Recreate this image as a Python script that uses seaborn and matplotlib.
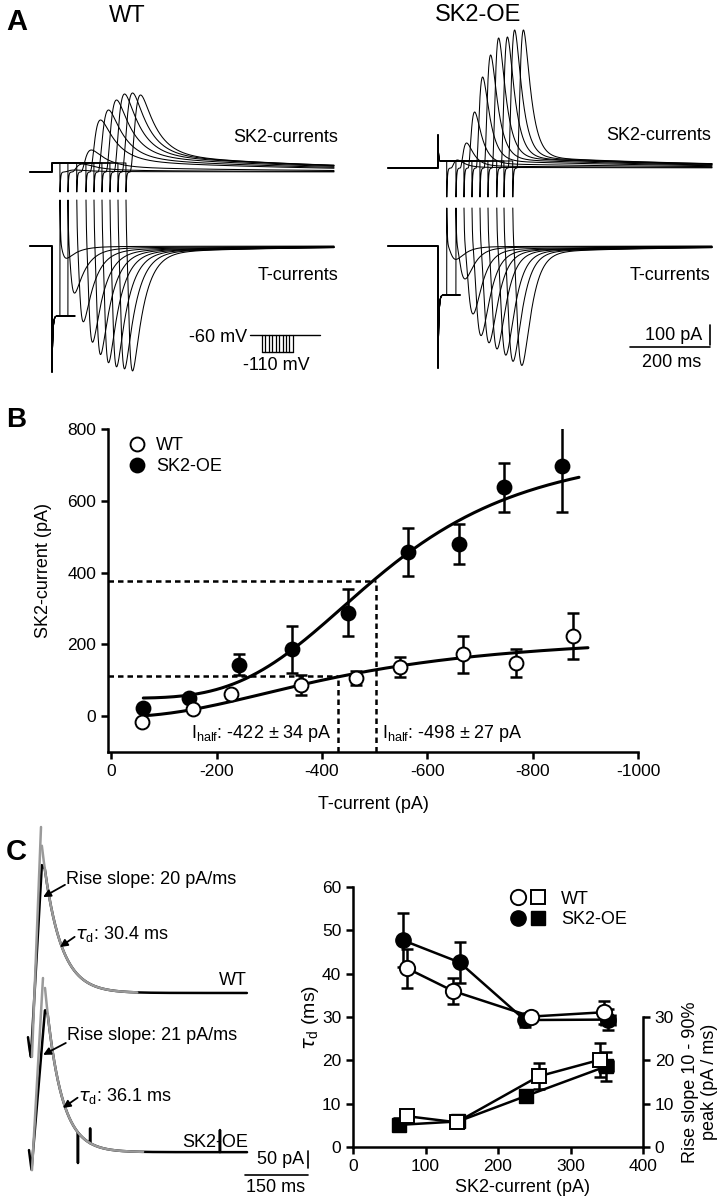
import numpy as np
import matplotlib
matplotlib.use("Agg")
import matplotlib.pyplot as plt
import seaborn as sns
from matplotlib.lines import Line2D
from matplotlib.legend_handler import HandlerTuple

# ====================== DATA ======================
# ---- Panel A: example sweeps (time in ms, current in pA) ----
wt_t_end = 760
wt_t_step = 55
wt_t_blank = 112
wt_t_return = [75, 95, 117, 140, 160, 180, 200, 220, 240]
wt_leak = -350
wt_T_amp = [60, 230, 370, 470, 530, 570, 590, 600, 610]
wt_SK2_amp = [10, 40, 110, 260, 310, 360, 390, 395, 385]

oe_t_end = 810
oe_t_step = 125
oe_t_blank = 180
oe_t_return = [147, 170, 190, 210, 230, 250, 272, 290, 312]
oe_leak = -245
oe_T_amp = [65, 160, 330, 435, 470, 500, 530, 560, 580]
oe_SK2_amp = [40, 125, 280, 455, 565, 650, 655, 690, 690]

# kinetics read from the sweeps (ms / pA)
wt_kin = dict(tm=6, th=28, lat=10, tr=10, td=38, sus=0.22, sus_tau=500, step_cap=-630,
              ret_cap=230, hyp_shift=45, ret_dip=-100, step_spike=0, T_off=-370)
oe_kin = dict(tm=12, th=22, lat=10, tr=8, td=18, sus=0.08, sus_tau=500, step_cap=-610,
              ret_cap=190, hyp_shift=35, ret_dip=-145, step_spike=130, T_off=-390)

# ---- Panel B: SK2-current vs T-current ----
b_wt_x = [-58, -155, -227, -361, -464, -548, -668, -768, -876]
b_wt_y = [-17, 20, 62, 87, 106, 137, 172, 149, 223]
b_wt_err = [0, 0, 0, 27, 20, 29, 52, 39, 65]
b_oe_x = [-60, -147, -243, -344, -449, -564, -661, -746, -856]
b_oe_y = [22, 50, 143, 186, 288, 457, 480, 637, 697]
b_oe_err = [0, 0, 29, 65, 65, 67, 55, 68, 127]
# Hill fits (bottom, top, K, n, x-range)
fit_wt = dict(bottom=-2, top=232, K=450, n=2.2, x0=-60, x1=-905)
fit_oe = dict(bottom=50, top=760, K=520, n=3.5, x0=-61, x1=-888)
half_wt = (-430, 112)
half_oe = (-502, 376)
b_xticks = [0, -200, -400, -600, -800, -1000]
b_yticks = [0, 200, 400, 600, 800]

# ---- Panel C (left): example SK2 currents (ms, pA) ----
c_wt_t = [0, 3.6, 7, 33, 40]
c_wt_y = [-130, -165, -188, 376, 365]
c_wt_tau = 41
c_wt_end = 521
c_wt_fit_end = 260
c_wt_rise_t = [9.5, 31]
c_wt_rise_y = [-188, 488]
c_oe_t = [2.4, 8.3, 40.5, 47]
c_oe_y = [6, -53, 418, 405]
c_oe_tau = 37
c_oe_end = 521
c_oe_fit_end = 274
c_oe_rise_t = [9.5, 35.7]
c_oe_rise_y = [-53, 512]
c_oe_offset = -468
c_oe_spike_t = [119, 148, 457]
c_oe_spike_y = [-32, 70, 65]

# ---- Panel C (right): decay tau and rise slope vs SK2-current ----
c_tau_wt_x = [75, 138, 246, 346]
c_tau_wt_y = [41.2, 36.0, 30.1, 31.1]
c_tau_wt_err = [4.6, 3.1, 1.0, 2.7]
c_tau_oe_x = [69, 147, 237, 352]
c_tau_oe_y = [47.7, 42.6, 29.3, 29.4]
c_tau_oe_err = [6.2, 4.7, 1.5, 2.5]
c_rise_wt_x = [75, 143, 256, 340]
c_rise_wt_y = [7.1, 5.7, 16.3, 20.1]
c_rise_wt_err = [0.8, 0.5, 3.0, 3.9]
c_rise_oe_x = [63, 145, 239, 349]
c_rise_oe_y = [5.1, 5.9, 11.8, 18.6]
c_rise_oe_err = [1.5, 0.6, 0.8, 3.4]
c_oe_xerr = [0, 0, 6, 10]

# ====================== STYLE ======================
sns.set_style("ticks", rc={"axes.edgecolor": "black", "xtick.color": "black",
                           "ytick.color": "black", "text.color": "black",
                           "axes.labelcolor": "black"})
plt.rcParams["font.family"] = ["Liberation Sans", "DejaVu Sans"]
plt.rcParams["mathtext.fontset"] = "dejavusans"
plt.rcParams["axes.unicode_minus"] = False

W, H = 721, 1199
fig = plt.figure(figsize=(W / 100, H / 100), dpi=100)


def add_ax(left, top, right, bottom):
    return fig.add_axes([left / W, 1 - bottom / H, (right - left) / W, (bottom - top) / H])


def ftext(px, py, s, **kw):
    fig.text(px / W, 1 - py / H, s, **kw)


# ====================== PANEL A ======================
def sweeps(t_end, t_step, t_blank, t_ret_list, leak, T_amps, S_amps, k):
    t = np.arange(0, t_end + 0.25, 0.25)
    sg = np.arange(0, 400, 0.05)
    g = (1 - np.exp(-sg / k["tm"])) ** 3 * np.exp(-sg / k["th"])
    gmax = g.max()
    out = []
    for t_ret, A_T, A_S in zip(t_ret_list, T_amps, S_amps):
        T = np.zeros_like(t)
        S = np.zeros_like(t)
        hyp = (t >= t_step) & (t < t_ret)
        post = t >= t_ret
        T[hyp] = leak + (k["step_cap"] - leak) * np.exp(-(t[hyp] - t_step) / 2.0)
        T[hyp & (t > t_blank)] = np.nan
        S[hyp] = k["hyp_shift"] + k["step_spike"] * np.exp(-(t[hyp] - t_step) / 1.0)
        sp = t[post] - t_ret
        gT = (1 - np.exp(-sp / k["tm"])) ** 3 * np.exp(-sp / k["th"]) / gmax
        T[post] = (k["ret_cap"] * np.exp(-sp / 1.2) - A_T * gT
                   - 0.06 * A_T * (1 - np.exp(-sp / 30)) * np.exp(-sp / 350))
        sl = np.clip(sp - k["lat"], 0, None)
        h = (1 - np.exp(-sl / k["tr"])) ** 3 * np.exp(-sl / k["td"])
        sus = (1 - np.exp(-sl / 30)) * np.exp(-sl / k["sus_tau"])
        shape = (1 - k["sus"]) * h / max(h.max(), 1e-9) + k["sus"] * sus
        shape = shape / shape.max()
        S[post] = A_S * shape + k["ret_dip"] * np.exp(-sp / 1.5)
        out.append((t, S, T + k["T_off"]))
    return out


axAw = add_ax(25, 20, 350, 400)
axAw.set_xlim(-12.5, 800)
axAw.set_ylim(-1140, 760)
axAo = add_ax(383, 20, 718, 400)
axAo.set_xlim(-12.5, 825)
axAo.set_ylim(-1160, 740)

for ax, args in [(axAw, (wt_t_end, wt_t_step, wt_t_blank, wt_t_return, wt_leak, wt_T_amp,
                         wt_SK2_amp, wt_kin)),
                 (axAo, (oe_t_end, oe_t_step, oe_t_blank, oe_t_return, oe_leak, oe_T_amp,
                         oe_SK2_amp, oe_kin))]:
    for t, S, T in sweeps(*args):
        ax.plot(t, S, color="black", lw=0.75)
        ax.plot(t, T, color="black", lw=0.75)
    ax.axis("off")

axAw.text(770, 175, "SK2-currents", ha="right", va="center", fontsize=13)
axAw.text(770, -520, "T-currents", ha="right", va="center", fontsize=13)
axAo.text(807, 160, "SK2-currents", ha="right", va="center", fontsize=13)
axAo.text(807, -540, "T-currents", ha="right", va="center", fontsize=13)

# voltage protocol inset
axAw.plot([550, 725], [-815, -815], color="black", lw=1)
axAw.plot([580, 657], [-900, -900], color="black", lw=1)
for xv in np.linspace(580, 657, 10):
    axAw.plot([xv, xv], [-900, -815], color="black", lw=0.9)
axAw.text(542, -825, "-60 mV", ha="right", va="center", fontsize=13)
axAw.text(617, -965, "-110 mV", ha="center", va="center", fontsize=13)

# scale bars
axAo.plot([605, 805], [-895, -895], color="black", lw=1.2)
axAo.plot([805, 805], [-885, -785], color="black", lw=1.2)
axAo.text(785, -835, "100 pA", ha="right", va="center", fontsize=13)
axAo.text(710, -972, "200 ms", ha="center", va="center", fontsize=13)

ftext(127, 16, "WT", ha="center", va="center", fontsize=17)
ftext(478, 15, "SK2-OE", ha="center", va="center", fontsize=17)

# ====================== PANEL B ======================
axB = add_ax(108, 429, 638, 752)


def hill(xabs, p):
    return p["bottom"] + (p["top"] - p["bottom"]) * xabs ** p["n"] / (p["K"] ** p["n"] + xabs ** p["n"])


for p in (fit_wt, fit_oe):
    xf = np.linspace(p["x0"], p["x1"], 300)
    sns.lineplot(x=xf, y=hill(-xf, p), ax=axB, color="black", lw=2.2, sort=False,
                 estimator=None, zorder=3)

for hx, hy in (half_wt, half_oe):
    axB.plot([6, hx], [hy, hy], color="black", lw=1.8, ls=(0, (2.2, 1.6)), zorder=2)
    axB.plot([hx, hx], [-100, hy], color="black", lw=1.8, ls=(0, (2.2, 1.6)), zorder=2)

axB.errorbar(b_oe_x, b_oe_y, yerr=b_oe_err, fmt="none", ecolor="black", elinewidth=1.8,
             capsize=4, capthick=1.8, zorder=4)
axB.errorbar(b_wt_x, b_wt_y, yerr=b_wt_err, fmt="none", ecolor="black", elinewidth=1.8,
             capsize=4, capthick=1.8, zorder=4)
axB.plot(b_oe_x, b_oe_y, "o", ms=10, mfc="black", mec="black", mew=1.4, zorder=5)
axB.plot(b_wt_x, b_wt_y, "o", ms=10, mfc="white", mec="black", mew=1.4, zorder=6)

axB.set_xlim(6, -1000)
axB.set_ylim(-100, 800)
axB.set_xticks(b_xticks)
axB.set_yticks(b_yticks)
sns.despine(ax=axB)
for sp in ("left", "bottom"):
    axB.spines[sp].set_linewidth(1.8)
axB.tick_params(width=1.8, length=5, labelsize=12.5)
axB.text(-0.121, 0.563, "SK2-current (pA)", transform=axB.transAxes, rotation=90,
         ha="center", va="center", fontsize=13)
axB.text(0.5, -0.164, "T-current (pA)", transform=axB.transAxes, ha="center",
         va="center", fontsize=13)
axB.text(-151, -48, r"I$_{\mathregular{half}}$: -422 ± 34 pA", ha="left", va="center", fontsize=13)
axB.text(-514, -48, r"I$_{\mathregular{half}}$: -498 ± 27 pA", ha="left", va="center", fontsize=13)

hB = [Line2D([], [], marker="o", ls="", ms=10, mfc="white", mec="black", mew=1.4),
      Line2D([], [], marker="o", ls="", ms=10, mfc="black", mec="black", mew=1.4)]
axB.legend(hB, ["WT", "SK2-OE"], loc="upper left", bbox_to_anchor=(0.03, 0.985),
           frameon=False, fontsize=13, handlelength=1.0, handletextpad=0.6,
           labelspacing=0.2, borderaxespad=0, borderpad=0.2)

# ====================== PANEL C left ======================
axCl = add_ax(25, 810, 320, 1195)
axCl.set_xlim(-7.1, 695)
axCl.set_ylim(-594, 538)
axCl.axis("off")


def c_trace(key_t, key_y, tau, t_end, sp_t=(), sp_y=()):
    t = np.arange(key_t[0], t_end + 0.5, 0.5)
    y = np.interp(t, key_t, key_y)
    late = t > key_t[-1]
    y[late] = key_y[-1] * np.exp(-(t[late] - key_t[-1]) / tau)
    for ts, ys in zip(sp_t, sp_y):
        i = int(np.argmin(np.abs(t - ts)))
        y[i] = ys
    return t, y


tw, yw = c_trace(c_wt_t, c_wt_y, c_wt_tau, c_wt_end)
axCl.plot(tw, yw, color="black", lw=1.8, zorder=2)
to, yo = c_trace(c_oe_t, c_oe_y, c_oe_tau, c_oe_end, c_oe_spike_t, c_oe_spike_y)
axCl.plot(to, yo + c_oe_offset, color="black", lw=1.8, zorder=2)

gray = "#9a9a9a"
tf = np.linspace(c_wt_t[-2], c_wt_fit_end, 200)
axCl.plot(tf, c_wt_y[-1] * np.exp(-(tf - c_wt_t[-1]) / c_wt_tau), color=gray, lw=1.8, zorder=3)
axCl.plot(c_wt_rise_t, c_wt_rise_y, color=gray, lw=1.8, zorder=3)
tf = np.linspace(c_oe_t[-2], c_oe_fit_end, 200)
axCl.plot(tf, c_oe_y[-1] * np.exp(-(tf - c_oe_t[-1]) / c_oe_tau) + c_oe_offset, color=gray,
          lw=1.8, zorder=3)
axCl.plot(c_oe_rise_t, np.array(c_oe_rise_y) + c_oe_offset, color=gray, lw=1.8, zorder=3)

arw = dict(arrowstyle="-|>", color="black", lw=1.3, mutation_scale=11, shrinkA=0, shrinkB=0)
axCl.annotate("", xy=(36, 282), xytext=(88, 318), arrowprops=arw)
axCl.text(90.5, 335, "Rise slope: 20 pA/ms", ha="left", va="center", fontsize=13)
axCl.annotate("", xy=(76, 135), xytext=(111, 165), arrowprops=arw)
axCl.text(113, 172, r"$\tau_{\mathregular{d}}$: 30.4 ms", ha="left", va="center", fontsize=13)
axCl.text(521, 38, "WT", ha="right", va="center", fontsize=13)

axCl.annotate("", xy=(36, -182), xytext=(90, -147), arrowprops=arw)
axCl.text(93, -124, "Rise slope: 21 pA/ms", ha="left", va="center", fontsize=13)
axCl.annotate("", xy=(83, -338), xytext=(118, -308), arrowprops=arw)
axCl.text(120, -303, r"$\tau_{\mathregular{d}}$: 36.1 ms", ha="left", va="center", fontsize=13)
axCl.text(523, -441, "SK2-OE", ha="right", va="center", fontsize=13)

# scale bars
axCl.plot([517, 667], [-535, -535], color="black", lw=1.2)
axCl.plot([667, 667], [-515, -465], color="black", lw=1.2)
axCl.text(658, -490, "50 pA", ha="right", va="center", fontsize=13)
axCl.text(590, -572, "150 ms", ha="center", va="center", fontsize=13)

# ====================== PANEL C right ======================
axC = add_ax(353, 887, 643, 1147)
axR = axC.twinx()
axC.set_xlim(0, 400)
axC.set_ylim(0, 60)
axR.set_ylim(0, 60)
axC.set_xticks([0, 100, 200, 300, 400])
axC.set_yticks([0, 10, 20, 30, 40, 50, 60])
axR.set_yticks([0, 10, 20, 30])

ekw = dict(fmt="none", ecolor="black", elinewidth=1.8, capsize=4, capthick=1.8)
# decay tau (left axis)
axC.errorbar(c_tau_oe_x, c_tau_oe_y, yerr=c_tau_oe_err, xerr=c_oe_xerr, zorder=2, **ekw)
axC.errorbar(c_tau_wt_x, c_tau_wt_y, yerr=c_tau_wt_err, zorder=2, **ekw)
sns.lineplot(x=c_tau_oe_x, y=c_tau_oe_y, ax=axC, color="black", lw=1.8, zorder=3)
sns.lineplot(x=c_tau_wt_x, y=c_tau_wt_y, ax=axC, color="black", lw=1.8, zorder=3)
axC.plot(c_tau_oe_x, c_tau_oe_y, "o", ms=11, mfc="black", mec="black", zorder=4)
axC.plot(c_tau_wt_x, c_tau_wt_y, "o", ms=11, mfc="white", mec="black", mew=1.4, zorder=5)
# rise slope (right axis)
axR.errorbar(c_rise_oe_x, c_rise_oe_y, yerr=c_rise_oe_err, xerr=c_oe_xerr, zorder=2, **ekw)
axR.errorbar(c_rise_wt_x, c_rise_wt_y, yerr=c_rise_wt_err, zorder=2, **ekw)
sns.lineplot(x=c_rise_oe_x, y=c_rise_oe_y, ax=axR, color="black", lw=1.8, zorder=3)
sns.lineplot(x=c_rise_wt_x, y=c_rise_wt_y, ax=axR, color="black", lw=1.8, zorder=3)
axR.plot(c_rise_oe_x, c_rise_oe_y, "s", ms=10, mfc="black", mec="black", zorder=4)
axR.plot(c_rise_wt_x, c_rise_wt_y, "s", ms=10, mfc="white", mec="black", mew=1.4, zorder=5)

for sp in ("top", "right"):
    axC.spines[sp].set_visible(False)
for sp in ("top", "left", "bottom"):
    axR.spines[sp].set_visible(False)
axR.spines["right"].set_bounds(0, 30)
for a in (axC, axR):
    for sp in a.spines.values():
        sp.set_linewidth(1.8)
    a.tick_params(width=1.8, length=5, labelsize=12.5)
axR.set_ylabel("")
axC.set_ylabel("")
axC.text(-0.148, 0.5, r"$\tau_{\mathregular{d}}$ (ms)", transform=axC.transAxes, rotation=90,
         ha="center", va="center", fontsize=14)
axR.text(1.197, 0.25, "Rise slope 10 - 90%\npeak (pA / ms)", transform=axR.transAxes,
         rotation=90, ha="center", va="center", fontsize=13, multialignment="center",
         linespacing=1.1)
axC.text(0.583, -0.154, "SK2-current (pA)", transform=axC.transAxes, ha="center",
         va="center", fontsize=13)

o_c = Line2D([], [], marker="o", ls="", ms=11, mfc="white", mec="black", mew=1.4)
o_s = Line2D([], [], marker="s", ls="", ms=10, mfc="white", mec="black", mew=1.4)
f_c = Line2D([], [], marker="o", ls="", ms=11, mfc="black", mec="black")
f_s = Line2D([], [], marker="s", ls="", ms=10, mfc="black", mec="black")
axR.legend([(o_c, o_s), (f_c, f_s)], ["WT", "SK2-OE"], loc="upper left",
           bbox_to_anchor=(0.53, 1.0), frameon=False, fontsize=13, handlelength=2.0,
           handletextpad=0.8, labelspacing=0.2, borderaxespad=0, borderpad=0.2,
           handler_map={tuple: HandlerTuple(ndivide=None, pad=0.2)})

# ====================== panel letters ======================
ftext(17, 22, "A", ha="center", va="center", fontsize=21, fontweight="bold")
ftext(16, 420, "B", ha="center", va="center", fontsize=20, fontweight="bold")
ftext(16, 852, "C", ha="center", va="center", fontsize=21, fontweight="bold")

fig.savefig("out.png", dpi=100)
